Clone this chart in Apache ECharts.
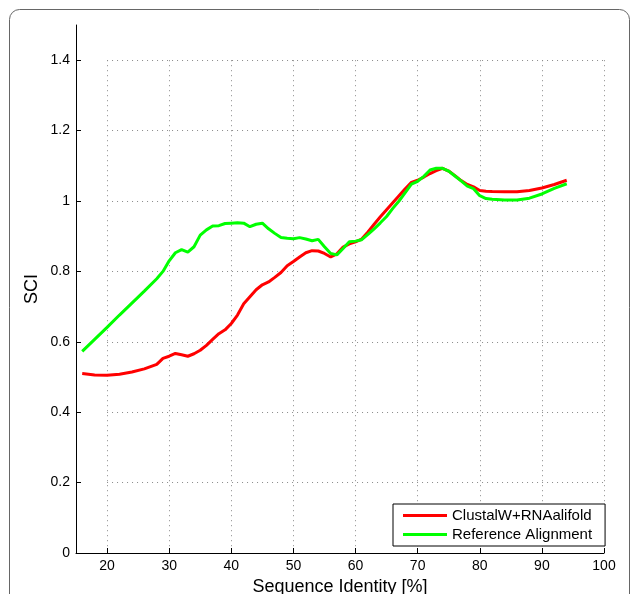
<!DOCTYPE html>
<html>
<head>
<meta charset="utf-8">
<script src="https://cdn.jsdelivr.net/npm/echarts@6/dist/echarts.min.js"></script>
<style>
html,body{margin:0;padding:0;background:#fff;}
#chart{width:631px;height:594px;}
</style>
</head>
<body>
<div id="chart"></div>
<script>
// Sequence identity (%) sample positions
const identity = [16,18,20,22,24,26,28,29,30,31,32,33,34,35,36,37,38,39,40,41,42,43,44,45,46,47,48,49,50,51,52,53,54,55,56,57,58,59,60,61,62,63,64,65,66,67,68,69,70,71,72,73,74,75,76,77,78,79,80,81,82,84,86,88,90,92,94];
// SCI for ClustalW+RNAalifold
const clustalSCI = [0.510,0.506,0.505,0.508,0.514,0.523,0.536,0.553,0.559,0.567,0.563,0.559,0.566,0.576,0.590,0.607,0.623,0.634,0.652,0.676,0.708,0.728,0.748,0.762,0.770,0.783,0.797,0.816,0.828,0.841,0.853,0.859,0.858,0.851,0.841,0.850,0.869,0.878,0.884,0.892,0.912,0.934,0.955,0.975,0.995,1.015,1.035,1.053,1.059,1.068,1.078,1.086,1.093,1.085,1.072,1.058,1.047,1.040,1.030,1.028,1.027,1.026,1.026,1.030,1.037,1.047,1.059];
// SCI for Reference Alignment
const referenceSCI = [0.573,0.607,0.641,0.676,0.710,0.744,0.779,0.800,0.830,0.853,0.862,0.855,0.870,0.903,0.918,0.929,0.930,0.936,0.937,0.938,0.937,0.927,0.934,0.937,0.921,0.908,0.896,0.894,0.893,0.896,0.892,0.887,0.891,0.870,0.851,0.847,0.865,0.884,0.886,0.890,0.905,0.921,0.938,0.956,0.979,1.000,1.024,1.048,1.056,1.070,1.088,1.093,1.093,1.085,1.071,1.057,1.042,1.035,1.015,1.007,1.005,1.003,1.003,1.008,1.020,1.036,1.049];
const seriesNames = ['ClustalW+RNAalifold', 'Reference Alignment'];
const xTicks = {min: 20, max: 100, step: 10};
const yTicks = {min: 0, max: 1.4, step: 0.2};
const xRange = [15, 100];
const yRange = [0, 1.5];

const FONT = '"Liberation Sans", Arial, Helvetica, sans-serif';
const L = 76, R = 27, T = 25, B = 41;
const W = 631 - L - R, H = 594 - T - B;
const tickLeft = L + (xTicks.min - xRange[0]) / (xRange[1] - xRange[0]) * W;
const tickTop = T + (yRange[1] - yTicks.max) / (yRange[1] - yRange[0]) * H;

const chart = echarts.init(document.getElementById('chart'), null, {renderer: 'canvas'});
const pairs = arr => identity.map((x, i) => [x, arr[i]]);
const gridLine = {show: true, lineStyle: {color: '#8a8a8a', width: 1, type: [1, 4]}};

chart.setOption({
  backgroundColor: '#fff',
  animation: false,
  textStyle: {fontFamily: FONT},
  graphic: [{
    type: 'rect', silent: true, z: -10,
    shape: {x: 9.5, y: 9.5, width: 620, height: 640, r: 10},
    style: {fill: 'none', stroke: '#666', lineWidth: 1}
  }],
  grid: [
    {left: L, right: R, top: T, bottom: B, containLabel: false, outerBoundsMode: 'none'},
    {left: tickLeft, right: R, top: tickTop, bottom: B, containLabel: false, outerBoundsMode: 'none'}
  ],
  xAxis: [
    {gridIndex: 0, type: 'value', min: xRange[0], max: xRange[1],
     axisLine: {show: true, onZero: false, lineStyle: {color: '#000', width: 1}},
     axisTick: {show: false}, axisLabel: {show: false}, splitLine: {show: false},
     name: 'Sequence Identity [%]', nameLocation: 'middle', nameGap: 25,
     nameTextStyle: {fontSize: 18, color: '#000', fontFamily: FONT}},
    {gridIndex: 1, type: 'value', min: xTicks.min, max: xTicks.max, interval: xTicks.step,
     axisLine: {show: false},
     axisTick: {show: true, inside: true, length: 5, lineStyle: {color: '#000'}},
     axisLabel: {fontSize: 14, color: '#000', margin: 6, fontFamily: FONT},
     splitLine: gridLine}
  ],
  yAxis: [
    {gridIndex: 0, type: 'value', min: yRange[0], max: yRange[1],
     axisLine: {show: true, onZero: false, lineStyle: {color: '#000', width: 1}},
     axisTick: {show: false}, axisLabel: {show: false}, splitLine: {show: false},
     name: 'SCI', nameLocation: 'middle', nameGap: 35,
     nameTextStyle: {fontSize: 18, color: '#000', fontFamily: FONT}},
    {gridIndex: 1, type: 'value', min: yTicks.min, max: yTicks.max, interval: yTicks.step,
     offset: tickLeft - L,
     axisLine: {show: false},
     axisTick: {show: true, inside: true, length: 5, lineStyle: {color: '#000'}},
     axisLabel: {fontSize: 14, color: '#000', margin: 6, fontFamily: FONT},
     splitLine: gridLine}
  ],
  legend: {
    orient: 'vertical', left: 393, top: 504,
    data: seriesNames,
    icon: 'rect', itemWidth: 44, itemHeight: 3, itemGap: 4,
    padding: [4, 13, 4, 10],
    borderColor: '#000', borderWidth: 1, backgroundColor: '#fff',
    textStyle: {fontSize: 15, color: '#000', fontFamily: FONT, lineHeight: 15}
  },
  series: [
    {name: seriesNames[0], type: 'line', xAxisIndex: 0, yAxisIndex: 0,
     data: pairs(clustalSCI), showSymbol: false, symbol: 'none',
     lineStyle: {color: '#ff0000', width: 3}, itemStyle: {color: '#ff0000'}, z: 3},
    {name: seriesNames[1], type: 'line', xAxisIndex: 0, yAxisIndex: 0,
     data: pairs(referenceSCI), showSymbol: false, symbol: 'none',
     lineStyle: {color: '#00ff00', width: 3}, itemStyle: {color: '#00ff00'}, z: 4}
  ]
});
</script>
</body>
</html>
